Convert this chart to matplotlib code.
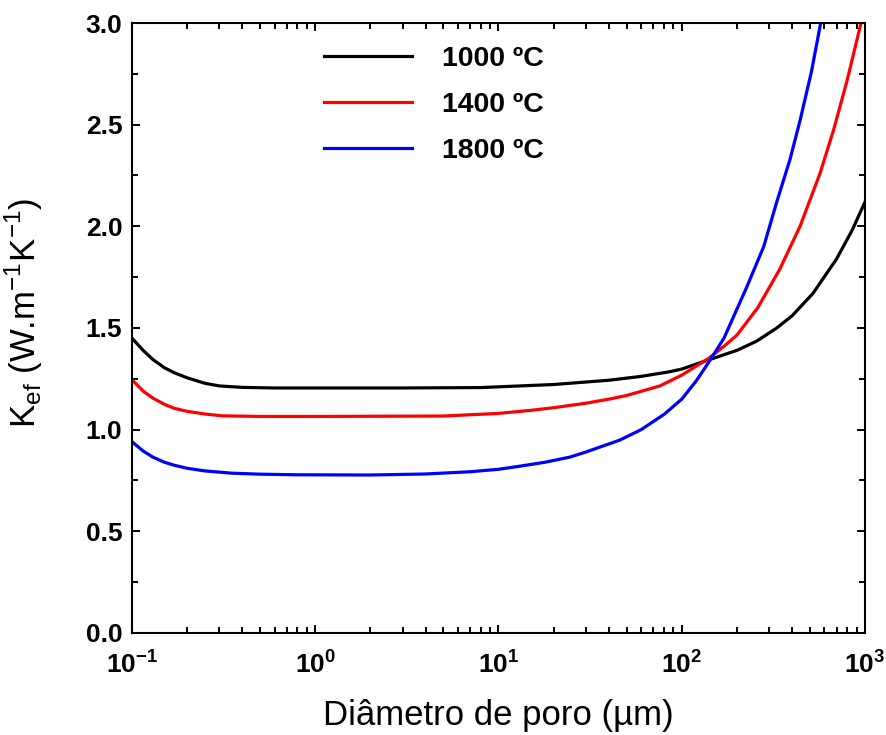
import matplotlib
matplotlib.use('Agg')
import matplotlib.pyplot as plt
from matplotlib.ticker import FixedLocator, FixedFormatter, LogLocator, MultipleLocator

# values (pore diameter in um, K_ef in W/m.K)
d_1000 = [0.1, 0.115, 0.13, 0.15, 0.17, 0.2, 0.25, 0.3, 0.4, 0.6, 1, 3, 8, 20, 40, 60, 86,
          100, 142, 200, 256, 330, 400, 520, 700, 850, 1000]
k_1000 = [1.45, 1.39, 1.345, 1.305, 1.28, 1.255, 1.228, 1.215, 1.208, 1.205, 1.205, 1.205,
          1.207, 1.222, 1.243, 1.262, 1.285, 1.298, 1.345, 1.39, 1.435, 1.5, 1.56, 1.67, 1.84,
          1.98, 2.12]

d_1400 = [0.1, 0.115, 0.13, 0.15, 0.17, 0.2, 0.25, 0.31, 0.5, 1, 5, 10, 15, 20, 30, 40, 50,
          76, 100, 140, 170, 200, 260, 343, 442, 568, 672, 800, 951]
k_1400 = [1.245, 1.19, 1.155, 1.125, 1.105, 1.09, 1.077, 1.068, 1.065, 1.065, 1.067, 1.08,
          1.095, 1.108, 1.13, 1.15, 1.168, 1.215, 1.268, 1.35, 1.41, 1.465, 1.6, 1.79, 2.0,
          2.26, 2.47, 2.72, 3.0]

d_1800 = [0.1, 0.115, 0.13, 0.15, 0.17, 0.2, 0.25, 0.35, 0.5, 0.8, 2, 4, 7, 10, 13, 18, 24.5,
          30, 46, 60, 80, 100, 120, 140, 170, 226, 280, 330, 390, 442, 510, 573]
k_1800 = [0.941, 0.895, 0.865, 0.84, 0.825, 0.81, 0.797, 0.786, 0.781, 0.778, 0.777, 0.782,
          0.793, 0.805, 0.82, 0.84, 0.865, 0.89, 0.949, 1.0, 1.075, 1.15, 1.24, 1.33, 1.45,
          1.7, 1.9, 2.12, 2.33, 2.52, 2.76, 3.0]

series_labels = ['1000 ºC', '1400 ºC', '1800 ºC']
series_colors = ['black', 'red', 'blue']

x_ticks = [0.1, 1, 10, 100, 1000]
x_ticklabels = [r'$\mathbf{10^{-1}}$', r'$\mathbf{10^{0}}$', r'$\mathbf{10^{1}}$',
                r'$\mathbf{10^{2}}$', r'$\mathbf{10^{3}}$']
y_ticks = [0.0, 0.5, 1.0, 1.5, 2.0, 2.5, 3.0]

plt.rcParams['font.family'] = ['Liberation Sans', 'DejaVu Sans']
plt.rcParams['mathtext.fontset'] = 'custom'
plt.rcParams['mathtext.rm'] = 'Liberation Sans'
plt.rcParams['mathtext.bf'] = 'Liberation Sans:bold'

fig = plt.figure(figsize=(8.87, 7.35), dpi=100)
ax = fig.add_axes([0.1488, 0.1388, 0.8264, 0.8299])

for d, k, lab, col in zip([d_1000, d_1400, d_1800], [k_1000, k_1400, k_1800],
                          series_labels, series_colors):
  ax.plot(d, k, color=col, lw=2.3, label=lab)

ax.set_xscale('log')
ax.set_xlim(0.1, 1000)
ax.set_ylim(0, 3.0)

ax.xaxis.set_major_locator(FixedLocator(x_ticks))
ax.xaxis.set_major_formatter(FixedFormatter(x_ticklabels))
ax.xaxis.set_minor_locator(LogLocator(base=10, subs=range(2, 10)))
ax.yaxis.set_major_locator(FixedLocator(y_ticks))
ax.yaxis.set_minor_locator(MultipleLocator(0.25))
ax.set_yticklabels([f'{v:.1f}' for v in y_ticks])

ax.tick_params(which='both', direction='in', top=True, right=True, width=1.4)
ax.tick_params(which='major', length=6)
ax.tick_params(which='minor', length=4)
ax.tick_params(axis='x', which='major', pad=13, labelsize=19)
ax.tick_params(axis='y', which='major', pad=7, labelsize=19)
for lbl in ax.get_yticklabels():
  lbl.set_fontweight('bold')
for s in ax.spines.values():
  s.set_linewidth(1.5)

ax.set_xlabel('Diâmetro de poro (µm)', fontsize=25, labelpad=15)
ax.set_ylabel(r'K$_{\mathregular{ef}}$ (W.m$^{\mathregular{-1}}$K$^{\mathregular{-1}}$)',
              fontsize=25)
ax.yaxis.set_label_coords(-0.118, 0.525)

leg = ax.legend(loc='upper left', bbox_to_anchor=(0.242, 0.985), frameon=False,
                handlelength=3.1, handletextpad=1.05, labelspacing=0.69, borderpad=0,
                prop={'weight': 'bold', 'size': 20.5})

plt.savefig('out.png', dpi=100)
plt.close()
